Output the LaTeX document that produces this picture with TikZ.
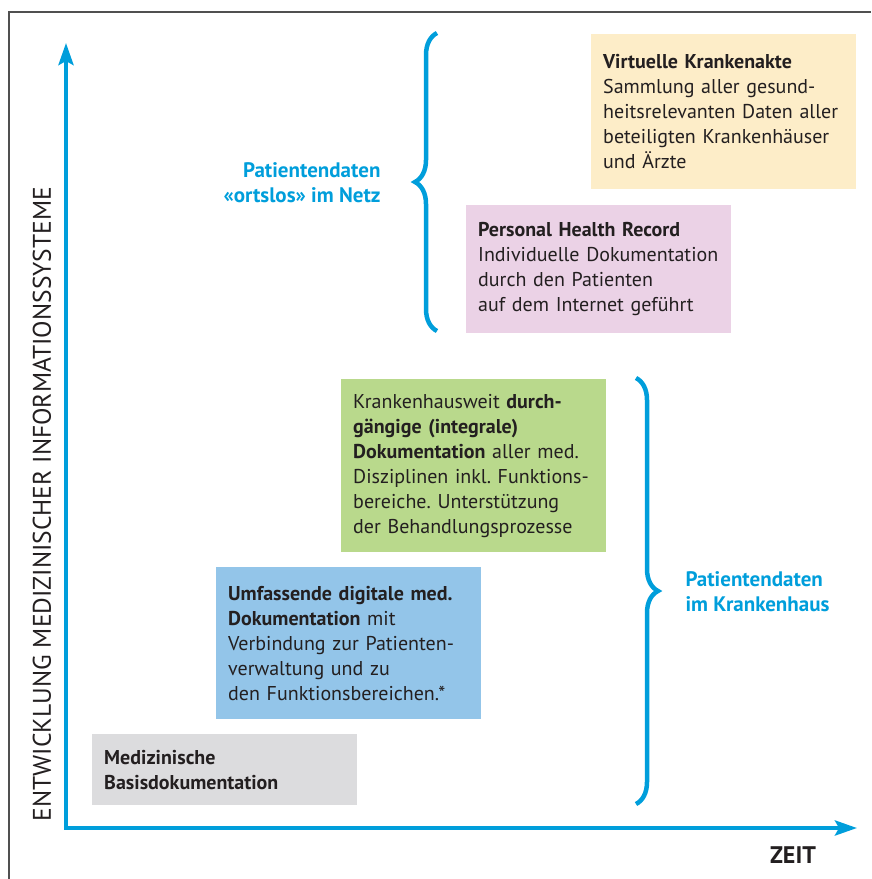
\documentclass[tikz,border=0pt]{standalone}
\usepackage{fontspec}
\setmainfont{PT Sans}
\frenchspacing
\usetikzlibrary{positioning,arrows.meta,decorations.pathreplacing}

\definecolor{axiscyan}{RGB}{0,158,219}
\definecolor{txtdark}{RGB}{35,31,32}
\definecolor{frameg}{RGB}{80,80,80}
\definecolor{vkayellow}{RGB}{253,237,200}
\definecolor{phrpink}{RGB}{235,210,230}
\definecolor{intgreen}{RGB}{185,217,140}
\definecolor{digblue}{RGB}{147,197,233}
\definecolor{basisgray}{RGB}{220,220,222}

\begin{document}
\begin{tikzpicture}[x=1pt,y=-1pt,
    box/.style={anchor=north west,minimum width=265pt,inner xsep=12pt,
        text width=241pt,align=left,text=txtdark,
        font=\fontsize{20}{25}\selectfont},
    axis/.style={draw=axiscyan,line width=4pt,
        {Stealth[length=22pt,width=15pt,inset=4pt]}-{Stealth[length=22pt,width=15pt,inset=4pt]}},
    bracket/.style={draw=axiscyan,line width=4.5pt,decorate,
        decoration={brace,amplitude=22pt}},
    zone/.style={text=axiscyan,font=\fontsize{21}{25}\selectfont\bfseries}]
    \useasboundingbox (0,0) rectangle (871,879);
    \draw[frameg,line width=1.5pt] (9,879) -- (9,12) -- (871,12);

    % axes
    \coordinate (origin) at (66,828);
    \coordinate (ytop)   at (66,43);
    \coordinate (xend)   at (857,828);
    \draw[axis] (ytop) -- (origin) -- (xend);
    \node[text=txtdark,rotate=90,font=\fontsize{25.5}{28}\selectfont] (ylab) at (42,504)
        {ENTWICKLUNG MEDIZINISCHER INFORMATIONSSYSTEME};
    \node[text=txtdark,font=\fontsize{24}{26}\selectfont\bfseries] (xlab) at (793,855) {ZEIT};

    % stufen
    \node[box,fill=basisgray,minimum height=71pt]  (basis) at (92,734)
        {\textbf{Medizinische}\\\textbf{Basisdokumentation}};
    \node[box,fill=digblue,minimum height=152pt]   (digital) at (216,567)
        {\textbf{Umfassende digitale med.}\\\textbf{Dokumentation} mit\\Verbindung zur Patienten-\\verwaltung und zu\\den Funktionsbereichen.*};
    \node[box,fill=intgreen,minimum height=173pt]  (integral) at (341,379)
        {Krankenhausweit \textbf{durch-}\\\textbf{gängige (integrale)}\\\textbf{Dokumentation} aller med.\\Disziplinen inkl. Funktions-\\bereiche. Unterstützung\\der Behandlungsprozesse};
    \node[box,fill=phrpink,minimum height=128pt]   (phr) at (466,205)
        {\textbf{Personal Health Record}\\Individuelle Dokumentation\\durch den Patienten\\auf dem Internet geführt};
    \node[box,fill=vkayellow,minimum height=155pt] (vka) at (591,34)
        {\textbf{Virtuelle Krankenakte}\\Sammlung aller gesund-\\heitsrelevanten Daten aller\\beteiligten Krankenhäuser\\und Ärzte};

    % klammern
    \coordinate (netzlo) at (437,331);
    \coordinate (netzhi) at (437,33);
    \draw[bracket] (netzlo) -- (netzhi);
    \node[zone,anchor=east,align=right] (netz) at (384,183)
        {Patientendaten\\«ortslos» im Netz};

    \coordinate (khhi) at (636,378);
    \coordinate (khlo) at (636,804);
    \draw[bracket] (khhi) -- (khlo);
    \node[zone,anchor=west,align=left] (kh) at (682,592)
        {Patientendaten\\im Krankenhaus};
\end{tikzpicture}
\end{document}
